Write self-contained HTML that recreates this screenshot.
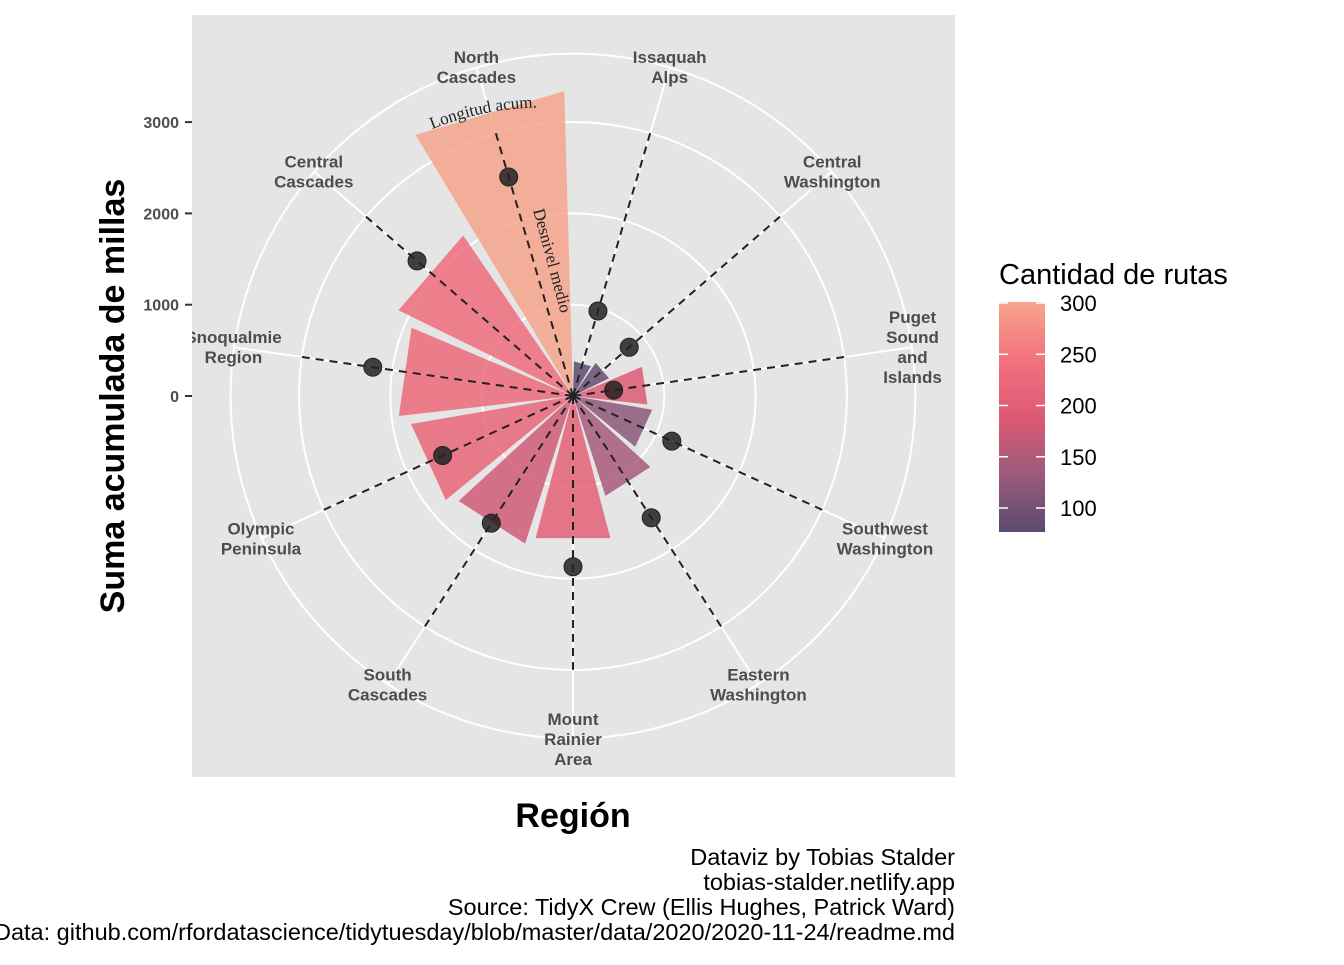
<!DOCTYPE html>
<html><head><meta charset="utf-8"><style>
body{margin:0;background:#fff;}
svg text{font-family:"Liberation Sans",sans-serif;}
</style></head><body>
<svg width="1344" height="960">
<defs>
<clipPath id="pc"><rect x="192" y="15" width="763" height="762"/></clipPath>
<linearGradient id="lg" x1="0" y1="1" x2="0" y2="0">
<stop offset="0" stop-color="#5b4a6e"/><stop offset="0.25" stop-color="#9a5b7c"/>
<stop offset="0.5" stop-color="#dd5a74"/><stop offset="0.75" stop-color="#f2727e"/>
<stop offset="1" stop-color="#f6a58c"/></linearGradient>
<path id="arcL" d="M 405 142 A 290 290 0 0 1 580 110"/>
</defs>
<rect x="192" y="15" width="763" height="762" fill="#e5e5e5"/>
<g id="grid" clip-path="url(#pc)"></g>
<g id="bars" clip-path="url(#pc)"></g>
<g id="lines" clip-path="url(#pc)"></g>
<g id="labels" clip-path="url(#pc)"></g>
<g id="yaxis"></g>
<text font-size="17" fill="#222" style="font-family:'Liberation Serif',serif"><textPath href="#arcL" startOffset="30">Longitud acum.</textPath></text>
<text x="547" y="262" font-size="17" fill="#222" transform="rotate(75 547 262)" text-anchor="middle" style="font-family:'Liberation Serif',serif">Desnivel medio</text>
<text x="124" y="396" font-size="34" font-weight="bold" text-anchor="middle" transform="rotate(-90 124 396)">Suma acumulada de millas</text>
<text x="573" y="827" font-size="34" font-weight="bold" text-anchor="middle">Región</text>
<g font-size="23.5" text-anchor="end" fill="#000">
<text x="955" y="865">Dataviz by Tobias Stalder</text>
<text x="955" y="890">tobias-stalder.netlify.app</text>
<text x="955" y="915">Source: TidyX Crew (Ellis Hughes, Patrick Ward)</text>
<text x="955" y="940">Data: github.com/rfordatascience/tidytuesday/blob/master/data/2020/2020-11-24/readme.md</text>
</g>
<text x="999" y="284" font-size="29">Cantidad de rutas</text>
<rect x="999" y="302" width="46" height="230" fill="url(#lg)"/>
<g id="legend"></g>
</svg>
<script>
const regions=["Issaquah\nAlps","Central\nWashington","Puget\nSound\nand\nIslands","Southwest\nWashington","Eastern\nWashington","Mount\nRainier\nArea","South\nCascades","Olympic\nPeninsula","Snoqualmie\nRegion","Central\nCascades","North\nCascades"];
const lengthSum=[380,440,820,880,1150,1610,1700,1800,1920,2130,3340];
const gainMean=[970,815,450,1190,1585,1870,1655,1570,2215,2260,2500];
const routeCount=[100,110,200,140,160,215,190,225,235,240,300];
const yTicks=[0,1000,2000,3000];
const legendTicks=[100,150,200,250,300];
const NS="http://www.w3.org/2000/svg";
const cx=573,cy=396,k=0.0913,n=regions.length,step=360/n,off=step/2;
const rr=v=>v*k;
const ang=i=>off+i*step;
const pt=(a,r)=>[cx+r*Math.sin(a*Math.PI/180),cy-r*Math.cos(a*Math.PI/180)];
function mk(tag,at,par){const e=document.createElementNS(NS,tag);for(const a in at)e.setAttribute(a,at[a]);document.getElementById(par).appendChild(e);return e;}
const stops=[[100,[91,74,110]],[150,[154,91,124]],[200,[221,90,116]],[250,[242,114,126]],[300,[246,165,140]]];
function col(v){v=Math.max(100,Math.min(300,v));for(let j=0;j<stops.length-1;j++){const[a,c1]=stops[j],[b,c2]=stops[j+1];if(v<=b){const t=(v-a)/(b-a);return`rgb(${c1.map((c,q)=>Math.round(c+(c2[q]-c)*t)).join(',')})`;}}}
[1000,2000,3000,3750].forEach(g=>{const c=mk('circle',{cx:cx,cy:cy,r:rr(g),fill:'none',stroke:'#fff','stroke-width':2},'grid');

});
regions.forEach((r,i)=>{const p=pt(ang(i),rr(3750));const l=mk('line',{x1:cx,y1:cy,x2:p[0],y2:p[1],stroke:'#fff','stroke-width':2},'grid');

});
regions.forEach((r,i)=>{
const a=ang(i),w=step*0.45,R=rr(lengthSum[i]);
const p1=pt(a-w,R),p2=pt(a+w,R);
const b=mk('path',{d:`M${cx},${cy} L${p1[0]},${p1[1]} L${p2[0]},${p2[1]} Z`,fill:col(routeCount[i]),'fill-opacity':0.85},'bars');


const e=pt(a,rr(3000));
const l=mk('line',{x1:cx,y1:cy,x2:e[0],y2:e[1],stroke:'#222','stroke-width':2,'stroke-dasharray':'8,6'},'lines');


const d=pt(a,rr(gainMean[i]));
const c=mk('circle',{cx:d[0],cy:d[1],r:9,fill:'#222','fill-opacity':0.85,stroke:'#222','stroke-width':1},'lines');


const lp=pt(a,343),lines=r.split('\n');
const t=mk('text',{x:lp[0],'text-anchor':'middle','font-size':17,'font-weight':'bold',fill:'#4d4d4d'},'labels');


lines.forEach((s,j)=>{const ts=document.createElementNS(NS,'tspan');ts.setAttribute('x',lp[0]);ts.setAttribute('y',lp[1]+6+(j-(lines.length-1)/2)*20);ts.textContent=s;t.appendChild(ts);});
});
yTicks.forEach(v=>{const y=cy-rr(v);
const l=mk('line',{x1:185,x2:192,y1:y,y2:y,stroke:'#333','stroke-width':2},'yaxis');


const t=mk('text',{x:179,y:y+6,'text-anchor':'end','font-size':16,'font-weight':'bold',fill:'#4d4d4d'},'yaxis');


t.textContent=v;});
legendTicks.forEach(v=>{const y=508-(v-100)/200*205;
const t=mk('text',{x:1060,y:y+8,'font-size':22,fill:'#000'},'legend');


t.textContent=v;
[[999,1008],[1036,1045]].forEach(([a,b])=>{const l=mk('line',{x1:a,x2:b,y1:y,y2:y,stroke:'#fff','stroke-width':1.5},'legend');

});});
</script>
</body></html>
